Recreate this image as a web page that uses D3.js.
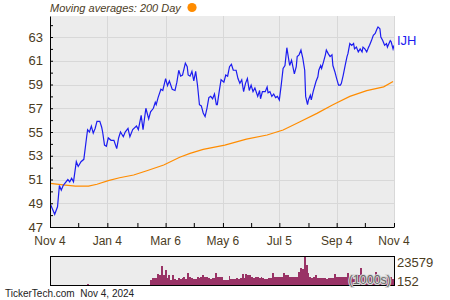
<!DOCTYPE html>
<html>
<head>
<meta charset="utf-8">
<script src="https://cdn.jsdelivr.net/npm/d3@7"></script>
<style>
  body { margin: 0; background: #fff; }
  svg { display: block; font-family: "Liberation Sans", Arial, sans-serif; }
</style>
</head>
<body>
<script>
'use strict';

// IJH closing prices
const priceDates = [
  '2023-11-04', '2023-11-09', '2023-11-12', '2023-11-14', '2023-11-16', '2023-11-18', '2023-11-20', '2023-11-23',
  '2023-11-25', '2023-11-27', '2023-11-29', '2023-12-02', '2023-12-04', '2023-12-07', '2023-12-10', '2023-12-13',
  '2023-12-14', '2023-12-16', '2023-12-18', '2023-12-20', '2023-12-22', '2023-12-24', '2023-12-27', '2023-12-29',
  '2023-12-30', '2024-01-01', '2024-01-03', '2024-01-05', '2024-01-08', '2024-01-11', '2024-01-14', '2024-01-16',
  '2024-01-18', '2024-01-21', '2024-01-23', '2024-01-26', '2024-01-28', '2024-01-31', '2024-02-04', '2024-02-06',
  '2024-02-09', '2024-02-11', '2024-02-14', '2024-02-17', '2024-02-19', '2024-02-22', '2024-02-24', '2024-02-25',
  '2024-02-27', '2024-03-01', '2024-03-03', '2024-03-06', '2024-03-08', '2024-03-10', '2024-03-13', '2024-03-16',
  '2024-03-18', '2024-03-20', '2024-03-22', '2024-03-24', '2024-03-27', '2024-03-29', '2024-03-30', '2024-04-01',
  '2024-04-03', '2024-04-05', '2024-04-07', '2024-04-09', '2024-04-11', '2024-04-13', '2024-04-15', '2024-04-17',
  '2024-04-19', '2024-04-21', '2024-04-23', '2024-04-25', '2024-04-27', '2024-04-29', '2024-04-30', '2024-05-02',
  '2024-05-04', '2024-05-07', '2024-05-09', '2024-05-11', '2024-05-13', '2024-05-15', '2024-05-17', '2024-05-20',
  '2024-05-22', '2024-05-24', '2024-05-26', '2024-05-28', '2024-05-30', '2024-06-01', '2024-06-03', '2024-06-05',
  '2024-06-07', '2024-06-09', '2024-06-12', '2024-06-14', '2024-06-15', '2024-06-17', '2024-06-20', '2024-06-22',
  '2024-06-23', '2024-06-25', '2024-06-27', '2024-06-29', '2024-07-01', '2024-07-03', '2024-07-05', '2024-07-07',
  '2024-07-09', '2024-07-11', '2024-07-13', '2024-07-15', '2024-07-16', '2024-07-18', '2024-07-21', '2024-07-23',
  '2024-07-24', '2024-07-26', '2024-07-28', '2024-07-30', '2024-08-01', '2024-08-02', '2024-08-04', '2024-08-05',
  '2024-08-07', '2024-08-08', '2024-08-10', '2024-08-13', '2024-08-15', '2024-08-16', '2024-08-18', '2024-08-19',
  '2024-08-21', '2024-08-23', '2024-08-24', '2024-08-26', '2024-08-28', '2024-08-30', '2024-08-31', '2024-09-02',
  '2024-09-04', '2024-09-06', '2024-09-08', '2024-09-09', '2024-09-11', '2024-09-13', '2024-09-15', '2024-09-16',
  '2024-09-18', '2024-09-20', '2024-09-22', '2024-09-23', '2024-09-25', '2024-09-27', '2024-09-29', '2024-10-01',
  '2024-10-02', '2024-10-04', '2024-10-06', '2024-10-08', '2024-10-09', '2024-10-11', '2024-10-13', '2024-10-15',
  '2024-10-17', '2024-10-18', '2024-10-20', '2024-10-21', '2024-10-23', '2024-10-25', '2024-10-27', '2024-10-28',
  '2024-10-31', '2024-11-01', '2024-11-03', '2024-11-04'
];
const priceValues = [
  49.0, 48.07, 48.7, 50.5, 50.1, 50.5, 50.7, 51.0,
  50.8, 51.1, 50.8, 52.5, 52.1, 52.5, 52.7, 54.6,
  55.2, 55.0, 55.5, 54.9, 55.3, 55.9, 55.9, 55.4,
  55.0, 53.9, 53.8, 54.5, 54.3, 54.3, 53.6, 54.5,
  55.0, 54.6, 55.0, 55.3, 54.6, 55.2, 55.5, 55.2,
  56.4, 55.2, 57.0, 56.1, 56.7, 57.0, 57.5, 57.3,
  57.9, 58.6, 58.5, 59.5, 58.9, 59.3, 58.6, 58.5,
  59.2, 60.2, 59.7, 59.8, 60.8, 60.5, 59.8, 59.7,
  60.1, 59.3, 60.1, 58.9, 57.3, 57.2, 56.6, 56.3,
  57.0, 57.9, 58.0, 57.8, 58.2, 57.3, 57.3, 58.4,
  59.4, 59.2, 59.8, 59.7, 60.5, 60.7, 60.2, 60.2,
  59.5, 59.1, 59.4, 58.4, 59.1, 59.5, 58.5, 58.95,
  58.4, 58.7, 58.0, 58.5, 57.8, 58.4, 58.4, 58.8,
  58.3, 58.4, 58.0, 58.2, 57.9, 58.0, 57.7, 58.95,
  60.35, 60.6, 62.1, 61.1, 60.6, 61.05, 59.9, 60.5,
  61.35, 61.5, 61.9, 61.2, 60.2, 58.0, 57.3, 57.7,
  58.1, 57.7, 58.4, 59.25, 59.65, 60.2, 60.6, 60.35,
  60.9, 61.5, 61.9, 61.6, 61.35, 61.5, 60.6, 60.1,
  59.5, 58.95, 58.95, 59.1, 59.8, 60.6, 61.35, 61.6,
  62.45, 62.3, 62.45, 62.0, 62.15, 61.75, 62.0, 61.75,
  62.15, 62.0, 61.75, 62.15, 62.3, 62.7, 63.15, 63.3,
  63.7, 63.85, 63.7, 63.0, 62.7, 62.3, 62.45, 62.15,
  62.7, 62.6, 62.0, 62.3
];

// 200 day moving average
const maDates = [
  '2023-11-04', '2023-11-18', '2023-12-01', '2023-12-15', '2023-12-24', '2024-01-05', '2024-01-17', '2024-02-01',
  '2024-02-15', '2024-03-04', '2024-03-21', '2024-04-01', '2024-04-15', '2024-05-08', '2024-05-31', '2024-06-22',
  '2024-07-09', '2024-07-27', '2024-08-14', '2024-08-31', '2024-09-18', '2024-10-06', '2024-10-24', '2024-11-03'
];
const maValues = [
  50.68, 50.54, 50.45, 50.45, 50.6, 50.9, 51.15, 51.38,
  51.74, 52.22, 52.87, 53.2, 53.54, 53.9, 54.4, 54.75,
  55.17, 55.87, 56.57, 57.3, 58.0, 58.48, 58.8, 59.25
];

// volume, in 1000s
const volDates = [
  '2023-12-13',
  '2024-02-18', '2024-02-20', '2024-02-22', '2024-02-24', '2024-02-26', '2024-02-28', '2024-03-01', '2024-03-03',
  '2024-03-05', '2024-03-07', '2024-03-09', '2024-03-11', '2024-03-13', '2024-03-15', '2024-03-17', '2024-03-19',
  '2024-03-21', '2024-03-23', '2024-03-25', '2024-03-27', '2024-03-29', '2024-03-31', '2024-04-02', '2024-04-04',
  '2024-04-06', '2024-04-08', '2024-04-10', '2024-04-12', '2024-04-14', '2024-04-16', '2024-04-18', '2024-04-20',
  '2024-04-22', '2024-04-24', '2024-04-26', '2024-04-28', '2024-04-30', '2024-05-02', '2024-05-04', '2024-05-06',
  '2024-05-08', '2024-05-10', '2024-05-12', '2024-05-14', '2024-05-16', '2024-05-18', '2024-05-20', '2024-05-22',
  '2024-05-24', '2024-05-26', '2024-05-28', '2024-05-30', '2024-06-01', '2024-06-03', '2024-06-05', '2024-06-07',
  '2024-06-09', '2024-06-11', '2024-06-13', '2024-06-15', '2024-06-17', '2024-06-19', '2024-06-21', '2024-06-23',
  '2024-06-25', '2024-06-27', '2024-06-29', '2024-07-01', '2024-07-03', '2024-07-05', '2024-07-07', '2024-07-09',
  '2024-07-11', '2024-07-13', '2024-07-15', '2024-07-17', '2024-07-19', '2024-07-21', '2024-07-23', '2024-07-25',
  '2024-07-27', '2024-07-29', '2024-07-31', '2024-08-02', '2024-08-04', '2024-08-06', '2024-08-08', '2024-08-10',
  '2024-08-12', '2024-08-14', '2024-08-16', '2024-08-18', '2024-08-20', '2024-08-22', '2024-08-24', '2024-08-26',
  '2024-08-28', '2024-08-30', '2024-09-01', '2024-09-03', '2024-09-05', '2024-09-07', '2024-09-09', '2024-09-11',
  '2024-09-13', '2024-09-15', '2024-09-17', '2024-09-19', '2024-09-21', '2024-09-23', '2024-09-25', '2024-09-27',
  '2024-09-29', '2024-10-01', '2024-10-03', '2024-10-05', '2024-10-07', '2024-10-09', '2024-10-11', '2024-10-13',
  '2024-10-15', '2024-10-17', '2024-10-19', '2024-10-21', '2024-10-23', '2024-10-25', '2024-10-27', '2024-10-29',
  '2024-10-31', '2024-11-02'
];
const volValues = [
  900,
  4200, 5600, 5900, 5500, 9300, 8800, 16300, 8400,
  12600, 5600, 8400, 4200, 8400, 5100, 4600, 5500,
  5100, 5500, 7000, 5100, 10400, 6500, 6200, 4800,
  4800, 6500, 6200, 6700, 8400, 6700, 6500, 5600,
  5300, 5600, 5900, 9900, 7000, 6500, 7000, 4200,
  4400, 4600, 7600, 4800, 5100, 4800, 5600, 5300,
  5900, 9300, 5900, 9300, 8400, 8100, 6500, 6200,
  6500, 6700, 6200, 6500, 6000, 4800, 5100, 5600,
  5900, 9900, 7000, 6700, 7000, 6500, 7000, 10400,
  8400, 8100, 7000, 6700, 7000, 6500, 7000, 11200,
  14100, 13500, 23579, 16800, 9900, 6500, 6200, 6500,
  8400, 5600, 5900, 5600, 6200, 5600, 5300, 5600,
  5900, 5600, 9300, 7000, 6700, 7000, 6500, 7000,
  6700, 10400, 7000, 6700, 7000, 8400, 8100, 8400,
  14300, 6500, 6200, 6500, 6700, 6500, 6200, 7000,
  10900, 7000, 6700, 7000, 6500, 6700, 7000, 6500,
  6700, 5100
];

const priceTicks = [47, 49, 51, 53, 55, 57, 59, 61, 63];
const monthTicks = [
  '2023-11-04', '2023-12-04', '2024-01-04', '2024-02-05', '2024-03-06', '2024-04-05', '2024-05-06',
  '2024-06-05', '2024-07-05', '2024-08-05', '2024-09-04', '2024-10-04', '2024-11-04'
];
const labelTicks = ['2023-11-04', '2024-01-04', '2024-03-06', '2024-05-06', '2024-07-05', '2024-09-04', '2024-11-04'];

const textColor = '#4b3c1e';
const parse = d3.timeParse('%Y-%m-%d');

const width = 450, height = 300;
const plotLeft = 50, plotRight = 394, plotTop = 16, plotBottom = 227;

const svg = d3.select('body').append('svg')
  .attr('width', width)
  .attr('height', height);

const x = d3.scaleTime()
  .domain([parse('2023-11-04'), parse('2024-11-04')])
  .range([plotLeft, plotRight]);

const y = d3.scaleLinear()
  .domain([47, 64.77])
  .range([plotBottom, plotTop]);

// plot background
svg.append('rect')
  .attr('x', plotLeft).attr('y', plotTop)
  .attr('width', plotRight - plotLeft).attr('height', plotBottom - plotTop)
  .attr('fill', '#ececec');

// grid
svg.append('g')
  .selectAll('line')
  .data(priceTicks.slice(1))
  .join('line')
  .attr('x1', plotLeft).attr('x2', plotRight)
  .attr('y1', d => Math.round(y(d)) + 0.5)
  .attr('y2', d => Math.round(y(d)) + 0.5)
  .attr('stroke', '#d8d8d8');

svg.append('g')
  .selectAll('line')
  .data(labelTicks.slice(1))
  .join('line')
  .attr('x1', d => Math.round(x(parse(d))) + 0.5)
  .attr('x2', d => Math.round(x(parse(d))) + 0.5)
  .attr('y1', plotTop).attr('y2', plotBottom)
  .attr('stroke', '#d8d8d8');

svg.append('clipPath')
  .attr('id', 'plot-clip')
  .append('rect')
  .attr('x', plotLeft).attr('y', plotTop)
  .attr('width', plotRight - plotLeft).attr('height', plotBottom - plotTop);

const maLine = d3.line()
  .x((d, i) => x(parse(maDates[i])))
  .y(d => y(d));

const priceLine = d3.line()
  .x((d, i) => x(parse(priceDates[i])))
  .y(d => y(d));

svg.append('path')
  .attr('clip-path', 'url(#plot-clip)')
  .attr('d', maLine(maValues))
  .attr('fill', 'none')
  .attr('stroke', '#ff8c00')
  .attr('stroke-width', 1.2);

svg.append('path')
  .attr('clip-path', 'url(#plot-clip)')
  .attr('d', priceLine(priceValues))
  .attr('fill', 'none')
  .attr('stroke', '#1c1cf0')
  .attr('stroke-width', 1.2);

// axes
svg.append('g')
  .attr('transform', `translate(${plotLeft},0)`)
  .call(d3.axisRight(y).tickValues(d3.range(47, 65)).tickSize(3).tickSizeOuter(0).tickFormat(''))
  .call(g => g.selectAll('line, path').attr('stroke', '#000'));

svg.append('g')
  .attr('transform', `translate(0,${plotBottom})`)
  .call(d3.axisTop(x).tickValues(monthTicks.map(parse)).tickSize(4).tickSizeOuter(0).tickFormat(''))
  .call(g => g.selectAll('line, path').attr('stroke', '#000'));

svg.append('g')
  .selectAll('text')
  .data(priceTicks)
  .join('text')
  .attr('x', 43)
  .attr('y', d => y(d))
  .attr('dy', '0.36em')
  .attr('text-anchor', 'end')
  .attr('font-size', 13)
  .attr('fill', textColor)
  .text(d => d);

svg.append('g')
  .selectAll('text')
  .data(labelTicks)
  .join('text')
  .attr('x', d => x(parse(d)))
  .attr('y', 245)
  .attr('text-anchor', 'middle')
  .attr('font-size', 12)
  .attr('fill', textColor)
  .text(d => d3.timeFormat('%b %-d')(parse(d)));

svg.append('text')
  .attr('x', 397).attr('y', 45)
  .attr('font-size', 13)
  .attr('fill', '#1c1cf0')
  .text('IJH');

// legend
svg.append('text')
  .attr('x', 50).attr('y', 12)
  .attr('font-size', 11)
  .attr('font-style', 'italic')
  .attr('fill', textColor)
  .text('Moving averages: 200 Day');

svg.append('circle')
  .attr('cx', 192).attr('cy', 7.5).attr('r', 4.6)
  .attr('fill', '#ff8c00');

// volume panel
const volTop = 257, volBottom = 285;
const yVol = d3.scaleLinear().domain([0, 23579]).range([volBottom, volTop]);

svg.append('rect')
  .attr('x', plotLeft + 0.5).attr('y', volTop - 0.5)
  .attr('width', plotRight - plotLeft).attr('height', volBottom - volTop + 1)
  .attr('fill', '#ececec')
  .attr('stroke', '#000');

svg.append('g')
  .selectAll('rect')
  .data(volValues)
  .join('rect')
  .attr('x', (d, i) => x(parse(volDates[i])))
  .attr('y', d => yVol(d))
  .attr('width', (d, i) => i > 0 && i < volDates.length - 1
    ? x(parse(volDates[i + 1])) - x(parse(volDates[i])) : 1.9)
  .attr('height', d => volBottom - yVol(d))
  .attr('fill', '#993366')
  .attr('shape-rendering', 'crispEdges');

svg.append('text')
  .attr('x', 391).attr('y', 284)
  .attr('text-anchor', 'end')
  .attr('font-size', 12.5)
  .attr('fill', '#666')
  .attr('stroke', '#d8d8d8')
  .attr('stroke-width', 2)
  .attr('paint-order', 'stroke')
  .text('(1000s)');

svg.append('text')
  .attr('x', 397).attr('y', 267)
  .attr('font-size', 13)
  .attr('fill', textColor)
  .text('23579');

svg.append('text')
  .attr('x', 397).attr('y', 286)
  .attr('font-size', 13)
  .attr('fill', textColor)
  .text('152');

svg.append('text')
  .attr('x', 5).attr('y', 297)
  .attr('font-size', 10)
  .attr('fill', '#222')
  .style('white-space', 'pre')
  .text('TickerTech.com  Nov 4, 2024');
</script>
</body>
</html>
